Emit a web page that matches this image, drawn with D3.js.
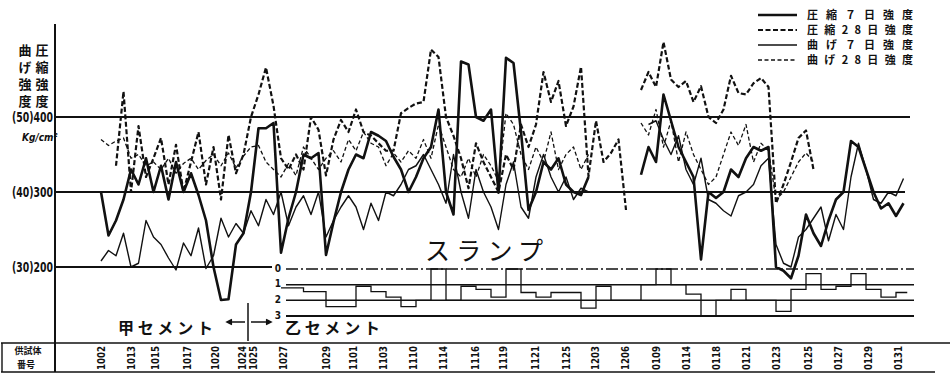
<!DOCTYPE html>
<html>
<head>
<meta charset="utf-8">
<script src="https://cdn.jsdelivr.net/npm/d3@7"></script>
<style>
body { margin: 0; background: #fff; }
svg { display: block; }
text { fill: #111; }
.jp { font-family: "Noto Sans CJK JP", sans-serif; font-weight: 700; }
.num { font-family: "DejaVu Sans Condensed", "Liberation Sans", sans-serif; font-weight: 700; }
</style>
</head>
<body>
<svg width="950" height="380"></svg>
<script>
// one value per specimen (sample index 0..108), null = not tested
// compressive strength, kg/cm2
const comp7 = [
  null,
  300, 242, 262, 290, 330, 310, 345, 300, 335, 290,
  340, 300, 325, 296, 262, 200, 156, 157, 230, 245,
  300, 385, 385, 392, 219, 265, 300, 350, 345, 352,
  216, 260, 300, 330, 350, 345, 380, 375, 368, 347,
  330, 300, 320, 345, 360, 410, 300, 270, 474, 470,
  400, 395, 410, 299, 479, 472, 380, 276, 300, 340,
  330, 345, 310, 300, 296, 320, null, null, null, null,
  null, null, 323, 360, 340, 430, 395, 360, 340, 320,
  210, 300, 292, 300, 330, 320, 345, 360, 355, 360,
  200, 195, 185, 215, 270, 245, 228, 262, 290, 300,
  368, 360, 330, 300, 278, 285, 268, 285
];
const comp28 = [
  null, null, null,
  335, 434, 300, 388, 320, 345, 372, 310,
  363, 300, 340, 380, 310, 360, 290, 376, 325, 350,
  400, 430, 466, 415, 345, 330, 350, 330, 400, 383,
  322, 370, 396, 380, 410, 380, 375, 365, 355, 355,
  405, 412, 418, 420, 490, 480, 400, 375, 345, 305,
  365, 340, 320, 300, 350, 330, 390, 360, 390, 460,
  420, 448, 388, 414, 467, 321, 395, 340, 352, 370,
  276, null, 436, 460, 440, 500, 450, 440, 448, 420,
  441, 400, 392, 410, 455, 432, 430, 445, 452, 440,
  285, 310, 340, 372, 382, 330,
  null, null, null, null, null, null, null, null, null, null, null, null
];
// bending strength, kg/cm2
const bend7 = [
  null,
  30.8, 32.2, 31.5, 34.5, 30.0, 30.5, 36.2, 34.0, 33.0, 31.2,
  29.6, 33.2, 31.5, 35.2, 29.8, 31.5, 36.5, 34.0, 35.8, 34.5,
  37.5, 35.5, 39.0, 37.0, 40.0, 35.5, 38.0, 39.5, 37.0, 40.0,
  34.0, 36.2, 38.0, 39.5, 38.0, 35.0, 38.5, 36.2, 40.0, 39.5,
  41.0, 43.0, 43.5, 45.0, 43.0, 41.0, 38.5, 45.0, 40.0, 36.5,
  43.0, 40.0, 38.0, 35.0, 41.0, 44.0, 38.0, 36.5, 42.0, 45.0,
  42.0, 40.0, 42.0, 39.0, 40.5, 40.0, null, null, null, null,
  null, null, null, 49.0, 49.5, 47.0, 45.0, 47.5, 43.0, 41.0,
  44.5, 39.0, 38.5, 37.5, 36.8, 39.5, 40.0, 41.0, 43.5, 44.5,
  33.0, 30.5, 30.0, 34.0, 35.0, 36.5, 38.0, 33.5, 37.0, 35.0,
  42.0, 46.5, 43.0, 39.0, 38.5, 40.0, 39.5, 41.8
];
const bend28 = [
  null,
  47.0, 46.2, 46.8, 47.2, 44.5, 45.0, 43.5, 44.0, 43.0, 44.5,
  42.5, 43.8, 44.5, 43.0, 44.2, 45.0, 43.5, 45.2, 43.2, 44.8,
  46.0, 46.2, 44.0, 43.0, 42.0, 43.8, 42.2, 46.0, 44.5, 43.0,
  44.5, 45.5, 44.0, 47.0, 45.5, 48.0, 46.5, 46.0, 43.5, 45.2,
  44.0, 45.5, 44.5, 47.0, 44.5, 49.0, 46.0, 43.0, 42.0, 44.5,
  42.0, 45.0, 43.5, 41.5, 50.5, 49.0, 45.0, 43.0, 46.0, 44.0,
  48.0, 43.0, 45.0, 46.0, 43.0, 45.0, null, null, null, null,
  null, null, 49.2, 47.6, 51.0, 46.0, 49.5, 44.0, 48.0, 45.0,
  43.0, 41.0, 42.0, 45.0, 48.0, 46.2, 49.0, 44.0, 46.5, 45.5,
  39.0, 40.0, 42.0, 44.0, 45.2, 44.0,
  null, null, null, null, null, null, null, null, null, null, null, null
];

// slump (cm): sample index where each step starts, and its value
const slumpStart = [25, 28, 31, 35, 37, 39, 41, 43, 45, 47, 49, 51, 53, 55, 57, 59, 61, 65, 67, 69,
  73, 75, 77, 79, 81, 83, 85, 87, 91, 93, 95, 97, 99, 101, 103, 105, 107, 108.5];
const slumpVal = [1.2, 1.45, 2.4, 1.1, 1.45, 1.8, 2.4, 2.0, 0, 2.0, 1.1, 1.3, 1.8, 0, 1.5, 1.8, 1.5, 2.5, 1.1, 2.0,
  1.0, 0, 1.0, 1.6, 3.0, 2.0, 1.3, 2.0, 2.7, 1.3, 0.3, 1.3, 1.1, 0.3, 1.3, 1.8, 1.5, 1.5];
const slumpTicks = [0, 1, 2, 3];

// specimen numbers on the bottom row and their sample index
const tickLabels = ['1002', '1013', '1015', '1017', '1020', '1024', '1025', '1027', '1029', '1101',
  '1103', '1110', '1114', '1116', '1119', '1121', '1125', '1203', '1206', '0109',
  '0114', '0118', '0121', '0123', '0125', '0127', '0129', '0131'];
const tickIndex = [1, 5.1, 8.2, 12.5, 16.2, 19.9, 21.3, 25.3, 31.1, 34.6,
  38.6, 42.6, 46.6, 50.9, 54.6, 58.9, 63.1, 66.9, 70.9, 75.1,
  79.1, 83.1, 87.1, 91.1, 95.3, 99.3, 103.3, 107.3];

const compTicks = [400, 300, 200];
const bendTicks = [50, 40, 30];

const titleCols = ['曲げ強度', '圧縮強度'];
const legendItems = ['圧縮７日強度', '圧縮28日強度', '曲げ７日強度', '曲げ28日強度'];

const ink = '#111';
const svg = d3.select('svg');

const x = d3.scaleLinear().domain([0, 108]).range([93.5, 903.5]);
const y = d3.scaleLinear().domain([200, 400]).range([267, 117]);
const yB = d3.scaleLinear().domain([30, 50]).range([267, 117]);
const yS = d3.scaleLinear().domain([0, 3]).range([269, 316]);

// frame: left axis and bottom label row
const frame = svg.append('g').attr('stroke', ink).attr('fill', 'none');
frame.append('line').attr('x1', 55).attr('x2', 55).attr('y1', 24).attr('y2', 372).attr('stroke-width', 2);
frame.append('line').attr('x1', 1).attr('x2', 950).attr('y1', 343).attr('y2', 343).attr('stroke-width', 1.6);
frame.append('line').attr('x1', 1).attr('x2', 935).attr('y1', 372).attr('y2', 372).attr('stroke-width', 1.6);
frame.append('line').attr('x1', 2).attr('x2', 2).attr('y1', 343).attr('y2', 372).attr('stroke-width', 1.4);

// horizontal grid lines
const gridEnd = { 400: 910, 300: 905, 200: 272 };
svg.append('g').selectAll('line')
  .data(compTicks)
  .enter()
  .append('line')
  .attr('x1', 55)
  .attr('x2', d => gridEnd[d])
  .attr('y1', d => y(d))
  .attr('y2', d => y(d))
  .attr('stroke', ink)
  .attr('stroke-width', 2);

// y tick labels "(50)400"
svg.append('g').selectAll('text')
  .data(compTicks)
  .enter()
  .append('text')
  .classed('num', true)
  .attr('x', 53)
  .attr('y', d => y(d))
  .attr('dy', '0.36em')
  .attr('text-anchor', 'end')
  .attr('font-size', 14)
  .attr('textLength', 41)
  .attr('lengthAdjust', 'spacingAndGlyphs')
  .text((d, i) => `(${bendTicks[i]})${d}`);

svg.append('text').classed('num', true)
  .attr('x', 22).attr('y', 141).attr('font-size', 10).attr('font-style', 'italic')
  .text('Kg/cm²');

// vertical axis title, two vertical columns
svg.append('g').selectAll('text')
  .data(titleCols)
  .enter()
  .append('text')
  .classed('jp', true)
  .attr('x', (d, i) => 25 + i * 17)
  .attr('y', 44)
  .style('writing-mode', 'vertical-rl')
  .style('letter-spacing', '4px')
  .attr('font-size', 13)
  .text(d => d);

// strength series
const styles = [
  { data: comp7, scale: y, width: 2.6, dash: null },
  { data: comp28, scale: y, width: 2.2, dash: '5,2.5' },
  { data: bend7, scale: yB, width: 1.4, dash: null },
  { data: bend28, scale: yB, width: 1.3, dash: '4,2.5' }
];
const lines = svg.append('g');
styles.forEach(s => {
  const gen = d3.line()
    .defined(d => d != null)
    .x((d, i) => x(i))
    .y(d => s.scale(d));
  lines.append('path')
    .datum(s.data)
    .attr('d', gen)
    .attr('fill', 'none')
    .attr('stroke', ink)
    .attr('stroke-width', s.width)
    .attr('stroke-linejoin', 'round')
    .attr('stroke-dasharray', s.dash);
});

// slump panel
const slump = svg.append('g');
slump.selectAll('line')
  .data(slumpTicks)
  .enter()
  .append('line')
  .attr('x1', 286)
  .attr('x2', 914)
  .attr('y1', d => yS(d))
  .attr('y2', d => yS(d))
  .attr('stroke', ink)
  .attr('stroke-width', d => d === 3 ? 2 : 1.5)
  .attr('stroke-dasharray', d => d === 0 ? '12,3,2,3' : null);
slump.selectAll('text')
  .data(slumpTicks)
  .enter()
  .append('text')
  .classed('num', true)
  .attr('x', 278)
  .attr('y', d => yS(d) - 1)
  .attr('dy', '0.36em')
  .attr('text-anchor', 'middle')
  .attr('font-size', 10)
  .text(d => d);
slump.append('path')
  .datum(slumpStart.map((s, i) => [s, slumpVal[i]]))
  .attr('d', d3.line().curve(d3.curveStepAfter).x(d => x(d[0])).y(d => yS(d[1])))
  .attr('fill', 'none')
  .attr('stroke', ink)
  .attr('stroke-width', 1.3);

svg.append('text').classed('jp', true)
  .attr('x', 425).attr('y', 260)
  .attr('font-size', 25).style('font-weight', 400)
  .attr('textLength', 118).attr('lengthAdjust', 'spacing')
  .text('スランプ');

// cement labels and divider
svg.append('text').classed('jp', true)
  .attr('x', 118).attr('y', 334).attr('font-size', 16)
  .attr('textLength', 95).attr('lengthAdjust', 'spacing')
  .text('甲セメント');
svg.append('text').classed('jp', true)
  .attr('x', 285).attr('y', 334).attr('font-size', 16)
  .attr('textLength', 95).attr('lengthAdjust', 'spacing')
  .text('乙セメント');
const div = svg.append('g').attr('stroke', ink).attr('stroke-width', 1.5).attr('fill', 'none');
div.append('line').attr('x1', 248).attr('x2', 248).attr('y1', 303).attr('y2', 341);
div.append('line').attr('x1', 228).attr('x2', 245).attr('y1', 322).attr('y2', 322);
div.append('line').attr('x1', 251).attr('x2', 270).attr('y1', 322).attr('y2', 322);
div.append('path').attr('d', 'M232,319.5 L227,322 L232,324.5').attr('fill', ink);
div.append('path').attr('d', 'M266,319.5 L271,322 L266,324.5').attr('fill', ink);

// bottom row: specimen numbers
svg.append('text').classed('jp', true)
  .attr('x', 28).attr('y', 351).attr('dy', '0.36em').attr('text-anchor', 'middle').attr('font-size', 9)
  .text('供試体');
svg.append('text').classed('jp', true)
  .attr('x', 26).attr('y', 365).attr('dy', '0.36em').attr('text-anchor', 'middle').attr('font-size', 9)
  .text('番号');
svg.append('g').selectAll('text')
  .data(tickLabels)
  .enter()
  .append('text')
  .classed('num', true)
  .attr('transform', (d, i) => `translate(${x(tickIndex[i])},358) rotate(-90)`)
  .attr('dy', '0.36em')
  .attr('text-anchor', 'middle')
  .attr('font-size', 10)
  .attr('textLength', 24)
  .attr('lengthAdjust', 'spacingAndGlyphs')
  .text(d => d);

// legend
const legend = svg.append('g');
legendItems.forEach((name, i) => {
  const ly = 15 + i * 15;
  legend.append('line')
    .attr('x1', 758).attr('x2', 797).attr('y1', ly).attr('y2', ly)
    .attr('stroke', ink)
    .attr('stroke-width', styles[i].width)
    .attr('stroke-dasharray', styles[i].dash);
  legend.append('text').classed('jp', true)
    .attr('x', 807).attr('y', ly).attr('dy', '0.36em')
    .attr('font-size', 11)
    .attr('textLength', 106).attr('lengthAdjust', 'spacing')
    .text(name);
});
</script>
</body>
</html>
